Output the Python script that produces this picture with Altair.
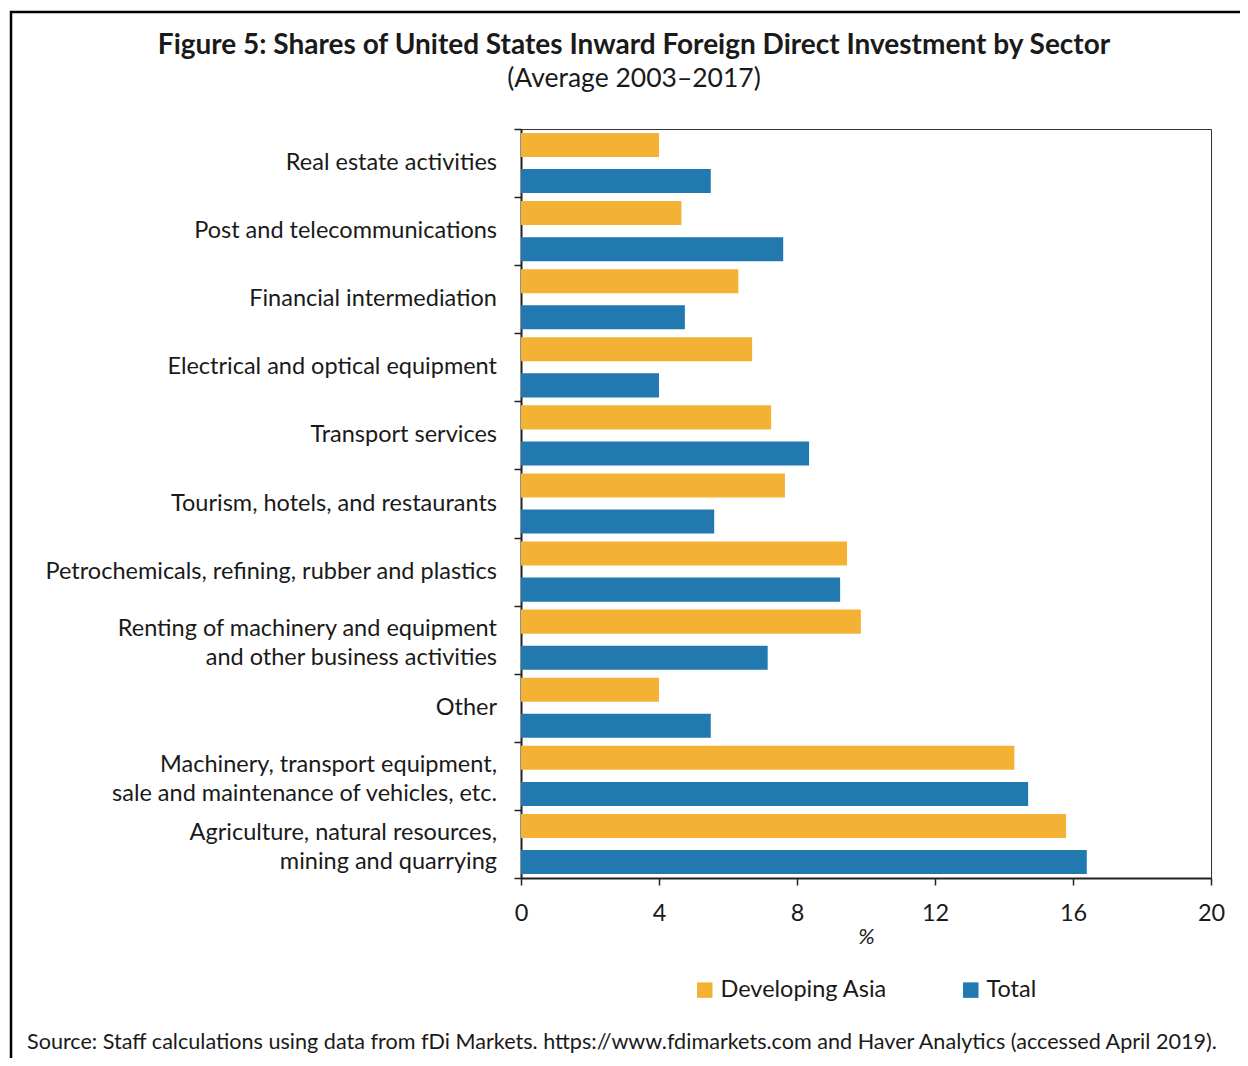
import altair as alt
import pandas as pd

categories = [
    "Real estate activities",
    "Post and telecommunications",
    "Financial intermediation",
    "Electrical and optical equipment",
    "Transport services",
    "Tourism, hotels, and restaurants",
    "Petrochemicals, refining, rubber and plastics",
    "Renting of machinery and equipment\nand other business activities",
    "Other",
    "Machinery, transport equipment,\nsale and maintenance of vehicles, etc.",
    "Agriculture, natural resources,\nmining and quarrying",
]
developing_asia = [4.0, 4.65, 6.3, 6.7, 7.25, 7.65, 9.45, 9.85, 4.0, 14.3, 15.8]
total = [5.5, 7.6, 4.75, 4.0, 8.35, 5.6, 9.25, 7.15, 5.5, 14.7, 16.4]
series = ["Developing Asia", "Total"]
colors = ["#F3B233", "#2179B0"]
x_ticks = [0, 4, 8, 12, 16, 20]

title_text = "Figure 5: Shares of United States Inward Foreign Direct Investment by Sector"
subtitle_text = "(Average 2003\u20132017)"
source_text = ("Source: Staff calculations using data from fDi Markets. https://www.fdimarkets.com "
               "and Haver Analytics (accessed April 2019).")

rows = []
for c, a, t in zip(categories, developing_asia, total):
    rows.append({"sector": c, "series": series[0], "value": a})
    rows.append({"sector": c, "series": series[1], "value": t})
df = pd.DataFrame(rows)
cat_df = pd.DataFrame({"sector": categories,
                       "lines": [c.count("\n") + 1 for c in categories]})

FONT = "Lato"
INK = "#1a1a1a"
W, H = 690, 749
OX, OY = 521, 129  # plot origin in page coords
LABEL_SIZE = 23.5

y_enc = alt.Y("sector:N", sort=categories,
              scale=alt.Scale(paddingInner=0, paddingOuter=0),
              axis=alt.Axis(title=None, tickBand="extent", tickSize=7, labels=False))

bars = alt.Chart(df).mark_bar().encode(
    x=alt.X("value:Q",
            scale=alt.Scale(domain=[0, 20], nice=False),
            axis=alt.Axis(values=x_ticks, title="%", titleFontStyle="italic",
                          titleFontWeight="normal", titleFontSize=22, titlePadding=2,
                          labelFontSize=23.5, labelPadding=16, tickSize=7, grid=False,
                          labelFlush=False, format="d")),
    y=y_enc,
    yOffset=alt.YOffset("series:N", sort=series,
                        scale=alt.Scale(paddingInner=1/3, paddingOuter=0.11)),
    color=alt.Color("series:N",
                    scale=alt.Scale(domain=series, range=colors),
                    legend=alt.Legend(title=None, orient="none", legendX=172, legendY=849,
                                      direction="horizontal", symbolType="square",
                                      symbolSize=240, symbolStrokeWidth=0,
                                      labelFontSize=23.5, labelOffset=4, labelLimit=400,
                                      columnPadding=72)),
)

def cat_labels(n_lines, dy):
    return alt.Chart(cat_df).transform_filter(
        alt.datum.lines == n_lines
    ).mark_text(
        font=FONT, fontSize=LABEL_SIZE, align="right", baseline="middle",
        lineBreak="\n", lineHeight=29, dy=dy, color=INK,
    ).encode(y=alt.Y("sector:N", sort=categories), text="sector:N",
             x=alt.value(-24))

labels1 = cat_labels(1, 0)
labels2 = cat_labels(2, -10.5)

def text_layer(txt, x, y, size, weight="normal", align="center"):
    return alt.Chart(pd.DataFrame({"t": [txt]})).mark_text(
        font=FONT, fontSize=size, fontWeight=weight, align=align,
        baseline="middle", color=INK,
    ).encode(text="t:N", x=alt.value(x - OX), y=alt.value(y - OY))

title = text_layer(title_text, 634, 46, 28, "bold")
subtitle = text_layer(subtitle_text, 634, 79, 26.5)
source = text_layer(source_text, 27, 1043, 21.6, align="left")

border = alt.Chart(pd.DataFrame({"b": [1]})).mark_rect(
    fillOpacity=0, stroke="#000000", strokeWidth=2.5
).encode(x=alt.value(11 - OX), x2=alt.value(1400 - OX),
         y=alt.value(12 - OY), y2=alt.value(1200 - OY))

chart = alt.layer(border, bars, labels1, labels2, title, subtitle, source).properties(
    width=W, height=H,
    autosize=alt.AutoSizeParams(type="none"),
    padding={"left": OX - 8, "top": OY - 8, "right": 1232 - (OX - 8) - W,
             "bottom": 1050 - (OY - 8) - H},
).configure(font=FONT).configure_view(
    stroke="#333333", strokeWidth=1
).configure_axis(
    domainColor="#222222", domainWidth=2, tickColor="#222222", tickWidth=1.5,
    labelColor=INK, titleColor=INK, labelFont=FONT, titleFont=FONT,
).configure_legend(
    labelColor=INK, labelFont=FONT,
)

chart.save("out.html", embed_options={"renderer": "svg", "actions": False})
